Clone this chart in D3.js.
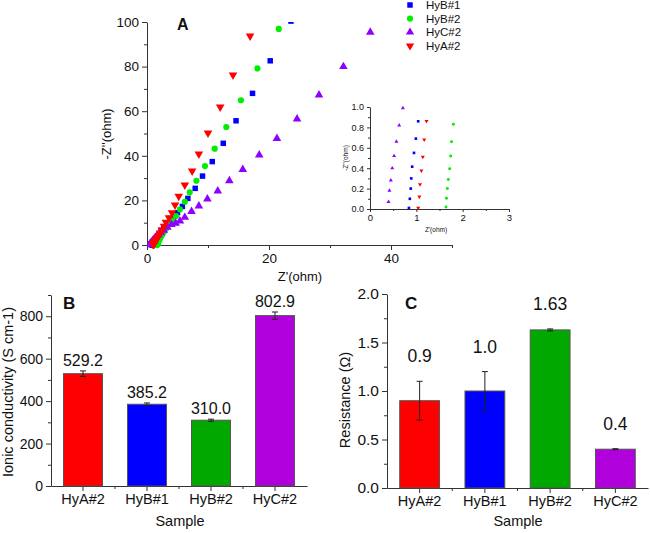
<!DOCTYPE html>
<html>
<head>
<meta charset="utf-8">
<script src="https://cdn.jsdelivr.net/npm/d3@7"></script>
<style>
  body { margin: 0; background: #fff; }
  text { font-family: "Liberation Sans", Arial, sans-serif; fill: #111; }
  .domain, .tick line { stroke: #333; }
</style>
</head>
<body>
<script>
var width = 650;
var height = 533;

// EIS data, [Z', -Z''] in ohm
var hyB1 = [[0.84,0.01],[0.86,0.10],[0.88,0.20],[0.89,0.30],[0.91,0.415],[0.95,0.55],[0.99,0.69],[1.04,0.86],
  [1.12,1.3],[1.25,1.9],[1.42,2.7],[1.65,3.7],[1.95,4.9],[2.3,6.3],[2.75,7.9],[3.3,9.8],[3.9,11.9],[4.4,12.9],
  [5.0,14.5],[5.8,17.3],[6.7,20.9],[7.9,25.4],[9.1,30.9],[10.7,37.4],[12.5,45.6],[14.6,55.7],[17.3,68.0],
  [20.2,82.6],[23.6,100.4]];
var hyB2 = [[1.64,0.02],[1.65,0.105],[1.67,0.2],[1.69,0.29],[1.72,0.395],[1.74,0.52],[1.76,0.66],[1.80,0.83],
  [1.86,1.25],[1.95,1.85],[2.08,2.6],[2.25,3.5],[2.5,4.6],[2.8,5.9],[3.15,7.4],[3.6,9.2],[4.1,11.0],[4.75,13.0],
  [5.4,16.0],[6.2,19.4],[7.0,23.6],[8.1,28.8],[9.5,35.4],[11.1,43.2],[13.0,52.9],[15.4,64.9],[18.1,79.2],[21.6,96.9]];
var hyC2 = [[0.40,0.07],[0.42,0.18],[0.45,0.28],[0.48,0.40],[0.52,0.52],[0.57,0.66],[0.63,0.82],[0.71,0.99],
  [0.82,1.5],[0.98,2.1],[1.2,2.8],[1.5,3.6],[1.85,4.5],[2.25,5.5],[2.75,6.6],[3.35,7.9],[4.0,9.2],[4.7,9.8],
  [5.4,10.8],[6.2,12.4],[7.3,15.0],[8.5,17.5],[9.9,20.6],[11.6,24.2],[13.5,28.8],[15.7,33.9],[18.4,40.4],
  [21.3,47.8],[24.6,56.5],[28.2,67.3],[32.2,80.0],[36.6,95.4]];
var hyA2 = [[1.04,0.01],[1.065,0.12],[1.08,0.24],[1.11,0.375],[1.14,0.51],[1.17,0.68],[1.22,0.86],[1.3,1.25],
  [1.42,1.8],[1.56,2.5],[1.72,3.3],[1.92,4.3],[2.15,5.4],[2.45,6.8],[2.8,8.4],[3.1,10.2],[3.6,12.2],[4.1,14.5],
  [4.6,17.9],[5.2,21.9],[6.2,26.9],[7.4,33.2],[8.5,40.8],[10.0,50.2],[12.0,61.9],[14.1,76.2],[16.9,93.7]];

var seriesNames = ["HyB#1", "HyB#2", "HyC#2", "HyA#2"];

// bar data
var samples = ["HyA#2", "HyB#1", "HyB#2", "HyC#2"];
var conductivity = [529.2, 385.2, 310.0, 802.9];
var conductivityErr = [13, 6, 5, 17];
var conductivityLabels = ["529.2", "385.2", "310.0", "802.9"];
var resistance = [0.9, 1.0, 1.63, 0.4];
var resistanceErr = [0.2, 0.2, 0.01, 0.005];
var resistanceLabels = ["0.9", "1.0", "1.63", "0.4"];

var eisTicksX = [0, 20, 40];
var eisTicksY = [0, 20, 40, 60, 80, 100];

var seriesColors = ["#0000ff", "#00ee00", "#8f00ff", "#ff0000"];
var barColors = ["#ff0000", "#0000ff", "#00a800", "#b000dc"];

var svg = d3.select("body")
  .append("svg")
  .attr("width", width)
  .attr("height", height);

// marker shapes
var shapes = [d3.symbolSquare, d3.symbolCircle, d3.symbolTriangle, d3.symbolTriangle];
var rotations = [0, 0, 0, 180];

function minorAxis(g, axisFn, scale, values, size) {
  g.call(axisFn(scale).tickValues(values).tickSize(size).tickFormat(""));
  g.select(".domain").remove();
}

// ---------- panel A ----------
var xA = d3.scaleLinear().domain([0, 50]).range([147, 452]);
var yA = d3.scaleLinear().domain([0, 100]).range([245, 22]);

svg.append("clipPath").attr("id", "clipA")
  .append("rect").attr("x", xA(0)).attr("y", yA(100))
  .attr("width", xA(50) - xA(0)).attr("height", yA(0) - yA(100) + 4);

var gxA = svg.append("g").attr("transform", "translate(0," + yA(0) + ")")
  .call(d3.axisBottom(xA).tickValues(eisTicksX).tickSize(5).tickSizeOuter(0));
gxA.selectAll("text").style("font-size", "13.5px");
minorAxis(svg.append("g").attr("transform", "translate(0," + yA(0) + ")"), d3.axisBottom, xA, [10, 30, 50], 3);

var gyA = svg.append("g").attr("transform", "translate(" + xA(0) + ",0)")
  .call(d3.axisLeft(yA).tickValues(eisTicksY).tickSize(5).tickSizeOuter(0));
gyA.selectAll("text").style("font-size", "13.5px");
minorAxis(svg.append("g").attr("transform", "translate(" + xA(0) + ",0)"), d3.axisLeft, yA, [10, 30, 50, 70, 90], 3);

svg.append("text").attr("x", 300).attr("y", 281).attr("text-anchor", "middle")
  .style("font-size", "13px").text("Z'(ohm)");
svg.append("text").attr("transform", "translate(111,134) rotate(-90)").attr("text-anchor", "middle")
  .style("font-size", "13px").text("-Z''(ohm)");
svg.append("text").attr("x", 177).attr("y", 30).style("font-size", "16px")
  .style("font-weight", "bold").text("A");

var eisData = [hyB1, hyB2, hyC2, hyA2];
var plotA = svg.append("g").attr("clip-path", "url(#clipA)");
eisData.forEach(function(series, i) {
  plotA.selectAll(".pA" + i)
    .data(series)
    .enter()
    .append("path")
    .attr("d", d3.symbol().type(shapes[i]).size(i < 2 ? 30 : 32))
    .attr("transform", function(d) {
      return "translate(" + xA(d[0]) + "," + yA(d[1]) + ") rotate(" + rotations[i] + ")";
    })
    .attr("fill", seriesColors[i]);
});

// legend
var legend = svg.append("g");
seriesNames.forEach(function(name, i) {
  var ly = 5 + i * 13.6;
  legend.append("path")
    .attr("d", d3.symbol().type(shapes[i]).size(30))
    .attr("transform", "translate(410," + ly + ") rotate(" + rotations[i] + ")")
    .attr("fill", seriesColors[i]);
  legend.append("text").attr("x", 426).attr("y", ly + 4)
    .style("font-size", "11.5px").text(name);
});

// inset
var xI = d3.scaleLinear().domain([0, 3]).range([370, 509]);
var yI = d3.scaleLinear().domain([0, 1]).range([209, 107]);

svg.append("clipPath").attr("id", "clipI")
  .append("rect").attr("x", xI(0) - 3).attr("y", yI(1) - 3)
  .attr("width", xI(3) - xI(0) + 3).attr("height", yI(0) - yI(1) + 6);

var gxI = svg.append("g").attr("transform", "translate(0," + yI(0) + ")")
  .call(d3.axisBottom(xI).tickValues([0, 1, 2, 3]).tickSize(3).tickSizeOuter(0).tickFormat(d3.format("d")));
gxI.selectAll("text").style("font-size", "9.5px").attr("dy", "0.6em");
minorAxis(svg.append("g").attr("transform", "translate(0," + yI(0) + ")"), d3.axisBottom, xI, [0.5, 1.5, 2.5], 2);

var gyI = svg.append("g").attr("transform", "translate(" + xI(0) + ",0)")
  .call(d3.axisLeft(yI).tickValues([0, 0.2, 0.4, 0.6, 0.8, 1.0]).tickSize(3).tickSizeOuter(0).tickFormat(d3.format(".1f")));
gyI.selectAll("text").style("font-size", "9px");
minorAxis(svg.append("g").attr("transform", "translate(" + xI(0) + ",0)"), d3.axisLeft, yI, [0.1, 0.3, 0.5, 0.7, 0.9], 2);

svg.append("text").attr("x", 436).attr("y", 232).attr("text-anchor", "middle")
  .style("font-size", "6.5px").text("Z'(ohm)");
svg.append("text").attr("transform", "translate(348,158) rotate(-90)").attr("text-anchor", "middle")
  .style("font-size", "6.5px").text("-Z''(ohm)");

var plotI = svg.append("g").attr("clip-path", "url(#clipI)");
eisData.forEach(function(series, i) {
  plotI.selectAll(".pI" + i)
    .data(series)
    .enter()
    .append("path")
    .attr("d", d3.symbol().type(shapes[i]).size(7))
    .attr("transform", function(d) {
      return "translate(" + xI(d[0]) + "," + yI(d[1]) + ") rotate(" + rotations[i] + ")";
    })
    .attr("fill", seriesColors[i]);
});

// ---------- bar panels ----------
function barPanel(opts) {
  var x = d3.scaleBand().domain(samples).range([opts.left, opts.right])
    .paddingInner(0.39).paddingOuter(0.195);
  var y = d3.scaleLinear().domain(opts.domain).range([opts.bottom, opts.top]);

  var gx = svg.append("g").attr("transform", "translate(0," + opts.bottom + ")")
    .call(d3.axisBottom(x).tickSize(5).tickSizeOuter(0));
  gx.selectAll("text").style("font-size", "14.5px");
  var bounds = samples.slice(1).map(function(s) { return x(s) - x.step() * x.paddingInner() / 2; });
  var gb = svg.append("g").attr("transform", "translate(0," + opts.bottom + ")");
  gb.selectAll("line").data(bounds).enter().append("line")
    .attr("x1", function(d) { return d; }).attr("x2", function(d) { return d; })
    .attr("y1", 0).attr("y2", 3).attr("stroke", "#333");

  var gy = svg.append("g").attr("transform", "translate(" + opts.left + ",0)")
    .call(d3.axisLeft(y).tickValues(opts.ticks).tickSize(5).tickSizeOuter(0).tickFormat(opts.fmt));
  gy.selectAll("text").style("font-size", opts.tickFont);
  minorAxis(svg.append("g").attr("transform", "translate(" + opts.left + ",0)"), d3.axisLeft, y, opts.minor, 3);

  svg.selectAll(".bar" + opts.id)
    .data(opts.values)
    .enter()
    .append("rect")
    .attr("x", function(d, i) { return x(samples[i]); })
    .attr("y", function(d) { return y(d); })
    .attr("width", x.bandwidth())
    .attr("height", function(d) { return opts.bottom - y(d); })
    .attr("fill", function(d, i) { return barColors[i]; })
    .attr("stroke", "#555")
    .attr("stroke-width", 1);

  var eb = svg.append("g").attr("stroke", "#222").attr("stroke-width", 1);
  opts.values.forEach(function(v, i) {
    var cx = x(samples[i]) + x.bandwidth() / 2;
    var e = opts.errors[i];
    eb.append("line").attr("x1", cx).attr("x2", cx).attr("y1", y(v - e)).attr("y2", y(v + e));
    eb.append("line").attr("x1", cx - 3).attr("x2", cx + 3).attr("y1", y(v - e)).attr("y2", y(v - e));
    eb.append("line").attr("x1", cx - 3).attr("x2", cx + 3).attr("y1", y(v + e)).attr("y2", y(v + e));
    svg.append("text").attr("x", cx).attr("y", y(v + e) - opts.labelGap)
      .attr("text-anchor", "middle").style("font-size", opts.labelFont).text(opts.labels[i]);
  });

  svg.append("text").attr("x", opts.sampleX).attr("y", 526).attr("text-anchor", "middle")
    .style("font-size", "14.5px").text("Sample");
  svg.append("text").attr("transform", "translate(" + opts.ylabX + "," + opts.ylabY + ") rotate(-90)")
    .attr("text-anchor", "middle").style("font-size", "14.5px").text(opts.ylab);
  svg.append("text").attr("x", opts.letterX).attr("y", 309).style("font-size", "17px")
    .style("font-weight", "bold").text(opts.letter);
}

barPanel({
  id: "B", left: 51, right: 307, top: 295, bottom: 486, domain: [0, 900],
  ticks: [0, 200, 400, 600, 800], minor: [100, 300, 500, 700, 900], fmt: d3.format("d"),
  tickFont: "14px", values: conductivity, errors: conductivityErr, labels: conductivityLabels,
  labelGap: 5, labelFont: "16px", sampleX: 180, ylabX: 13, ylabY: 392,
  ylab: "Ionic conductivity (S cm-1)", letter: "B", letterX: 63
});

barPanel({
  id: "C", left: 387, right: 648, top: 294, bottom: 488, domain: [0, 2],
  ticks: [0, 0.5, 1.0, 1.5, 2.0], minor: [0.25, 0.75, 1.25, 1.75], fmt: d3.format(".1f"),
  tickFont: "15.5px", values: resistance, errors: resistanceErr, labels: resistanceLabels,
  labelGap: 19, labelFont: "17.5px", sampleX: 518, ylabX: 350, ylabY: 400,
  ylab: "Resistance (\u03a9)", letter: "C", letterX: 405
});
</script>
</body>
</html>
